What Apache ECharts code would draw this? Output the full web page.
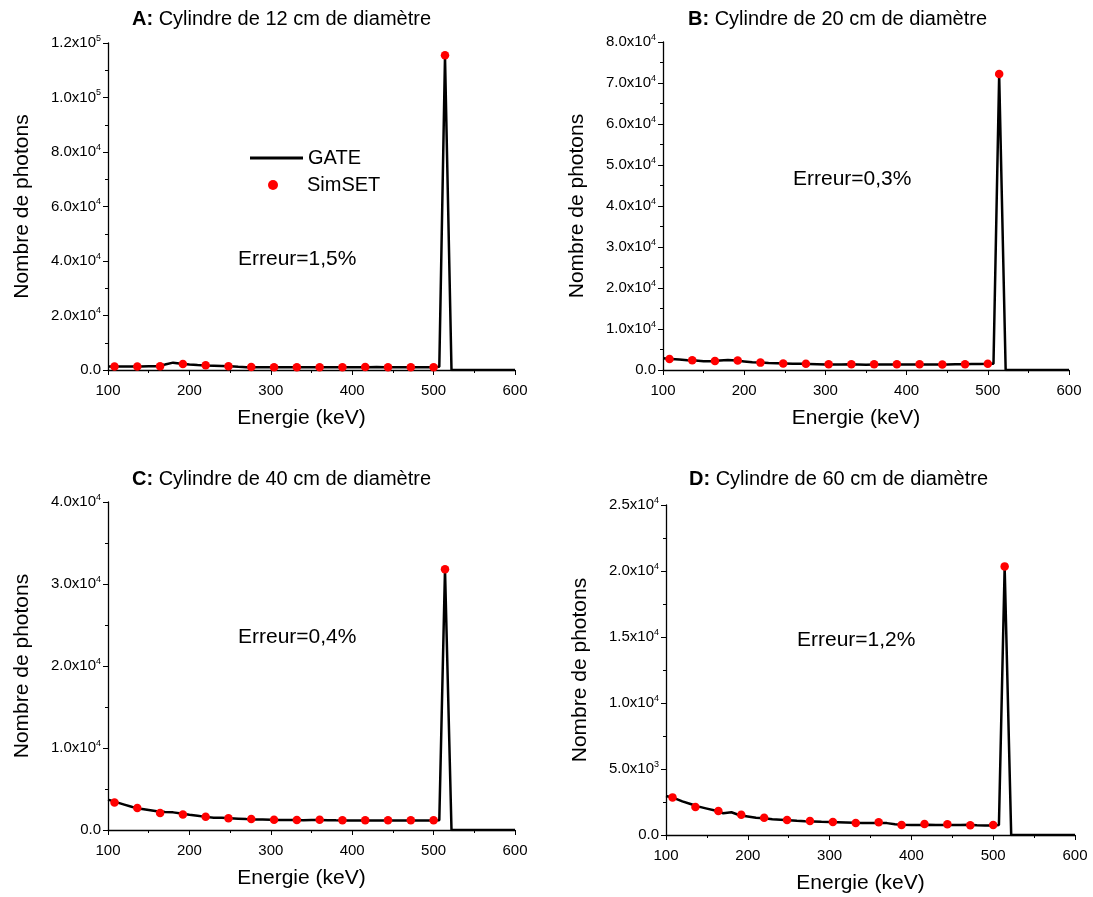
<!DOCTYPE html>
<html>
<head>
<meta charset="utf-8">
<script src="https://cdn.jsdelivr.net/npm/echarts@6/dist/echarts.min.js"></script>
<style>html,body{margin:0;padding:0;background:#fff}#c{width:1093px;height:897px}</style>
</head>
<body>
<div id="c"></div>
<script>
// Energy samples (keV)
const energyLine = [100,110,120,130,140,150,160,170,180,190,200,210,220,230,240,250,260,270,280,290,300,310,320,330,340,350,360,370,380,390,400,410,420,430,440,450,460,470,480,490,500,507,514,522,600];
const energyDots = [108,136,164,192,220,248,276,304,332,360,388,416,444,472,500,514];

// GATE (line) values
const gateA = [1300,1300,1300,1300,1300,1350,1400,2000,2700,2300,2000,1800,1650,1550,1450,1350,1150,1050,1050,1050,1000,1000,1000,1000,1000,1000,1000,1000,1000,1000,1000,1000,1050,1100,1050,1000,1000,1000,1000,1000,1000,1200,115000,0,0];
const gateB = [2850,2700,2550,2400,2300,2150,2150,2300,2450,2300,2100,1900,1800,1700,1650,1600,1550,1500,1450,1400,1350,1350,1350,1400,1350,1300,1350,1350,1350,1350,1350,1350,1350,1350,1350,1350,1400,1400,1450,1450,1500,1550,72000,0,0];
const gateC = [3700,3400,3100,2800,2600,2450,2300,2200,2150,2000,1850,1750,1600,1500,1480,1430,1380,1330,1290,1270,1250,1230,1220,1210,1200,1220,1230,1200,1180,1170,1170,1170,1170,1170,1170,1170,1170,1170,1170,1170,1170,1200,31800,0,0];
const gateD = [2950,2800,2550,2350,2150,2000,1850,1650,1720,1500,1400,1300,1260,1200,1160,1120,1080,1050,1030,1000,980,960,940,920,910,900,910,900,820,780,760,760,770,760,760,760,760,770,740,720,720,760,20300,0,0];

// SimSET (dots) values
const simA = [1300,1300,1400,2200,1700,1350,1100,1040,1000,1000,1000,1100,1000,1000,1000,115500];
const simB = [2700,2400,2200,2300,1800,1600,1550,1400,1400,1400,1400,1400,1350,1400,1550,72200];
const simC = [3350,2680,2070,1900,1630,1420,1340,1260,1220,1260,1180,1180,1180,1180,1180,31800];
const simD = [2850,2120,1820,1540,1310,1140,1060,985,910,960,760,830,810,730,760,20350];

// Panel texts
const panelLetters = ['A:','B:','C:','D:'];
const panelTitles = ['Cylindre de 12 cm de diamètre','Cylindre de 20 cm de diamètre','Cylindre de 40 cm de diamètre','Cylindre de 60 cm de diamètre'];
const errorTexts = ['Erreur=1,5%','Erreur=0,3%','Erreur=0,4%','Erreur=1,2%'];
const yMax = [120000, 80000, 40000, 25000];
const yStep = [20000, 10000, 10000, 5000];
const xTicks = [100, 600, 100];
const xName = 'Energie (keV)';
const yName = 'Nombre de photons';

const FONT = '"Liberation Sans", Arial, Helvetica, sans-serif';
const gates = [gateA, gateB, gateC, gateD];
const sims = [simA, simB, simC, simD];

const grids = [
  {left:108, top:43, width:407, height:327},
  {left:663, top:42, width:406, height:328},
  {left:108, top:502, width:407, height:328},
  {left:666, top:505, width:409, height:330}
];
const titlePos = [[127,4],[683,4],[127,464],[684,464]];
const errPos = [[238,261],[793,181],[238,639],[797,642]];

function yFmt(v){
  if (v === 0) return '{n|0.0}';
  const e = Math.floor(Math.log10(v) + 1e-9);
  const m = (v / Math.pow(10, e)).toFixed(1);
  return '{n|' + m + 'x10}{s|' + e + '}';
}

const option = {
  animation:false,
  backgroundColor:'#fff',
  textStyle:{fontFamily:FONT},
  title: panelTitles.map((t,i)=>({
    text:'{b|'+panelLetters[i]+'} '+t,
    left:titlePos[i][0], top:titlePos[i][1],
    textStyle:{fontFamily:FONT, fontSize:20, fontWeight:'normal', color:'#000',
      rich:{b:{fontFamily:FONT, fontSize:20, fontWeight:'bold', color:'#000'}}}
  })),
  legend:[
    {data:['GATE'], left:245, top:143, orient:'vertical', itemWidth:53, itemHeight:3, icon:'rect',
      textStyle:{fontFamily:FONT, fontSize:20, color:'#000'}, itemGap:0},
    {data:['SimSET'], left:263, top:170, orient:'vertical', itemWidth:10, itemHeight:10, icon:'circle',
      textStyle:{fontFamily:FONT, fontSize:20, color:'#000', padding:[0,0,0,24]}, itemGap:0}
  ],
  grid: grids,
  xAxis: grids.map((g,i)=>({
    type:'value', gridIndex:i, min:xTicks[0], max:xTicks[1], interval:xTicks[2],
    name:xName, nameLocation:'middle', nameGap:38,
    nameTextStyle:{fontFamily:FONT, fontSize:21, color:'#000', padding:[0,20,0,0]},
    axisLine:{show:true, onZero:false, lineStyle:{color:'#000', width:1.3}},
    axisTick:{show:true, inside:false, length:5, lineStyle:{color:'#000'}},
    minorTick:{show:true, splitNumber:2, length:3, lineStyle:{color:'#000'}},
    splitLine:{show:false},
    axisLabel:{fontFamily:FONT, fontSize:15, color:'#000', margin:13}
  })),
  yAxis: grids.map((g,i)=>({
    type:'value', gridIndex:i, min:0, max:yMax[i], interval:yStep[i],
    name:yName, nameLocation:'middle', nameGap:75,
    nameTextStyle:{fontFamily:FONT, fontSize:21, color:'#000'},
    axisLine:{show:true, onZero:false, lineStyle:{color:'#000', width:1.3}},
    axisTick:{show:true, inside:false, length:5, lineStyle:{color:'#000'}},
    minorTick:{show:true, splitNumber:2, length:3, lineStyle:{color:'#000'}},
    splitLine:{show:false},
    axisLabel:{formatter:yFmt, margin:7, color:'#000',
      rich:{n:{fontFamily:FONT, fontSize:15, color:'#000', lineHeight:18},
            s:{fontFamily:FONT, fontSize:9, color:'#000', verticalAlign:'top', lineHeight:9}}}
  })),
  graphic: errorTexts.map((t,i)=>({
    type:'text', left:errPos[i][0], top:errPos[i][1]-12,
    style:{text:t, font:'21px '+FONT, fill:'#000'}
  })),
  series: []
};

gates.forEach((arr,i)=>{
  option.series.push({
    name:'GATE', type:'line', xAxisIndex:i, yAxisIndex:i,
    data: energyLine.map((x,k)=>[x, arr[k]]),
    symbol:'none', lineStyle:{color:'#000', width:2.5}, itemStyle:{color:'#000'}, z:2
  });
});
sims.forEach((arr,i)=>{
  option.series.push({
    name:'SimSET', type:'scatter', xAxisIndex:i, yAxisIndex:i,
    data: energyDots.map((x,k)=>[x, arr[k]]),
    symbol:'circle', symbolSize:8.5, itemStyle:{color:'#ff0000', opacity:1}, z:3
  });
});

const chart = echarts.init(document.getElementById('c'), null, {renderer:'canvas'});
chart.setOption(option);
</script>
</body>
</html>
